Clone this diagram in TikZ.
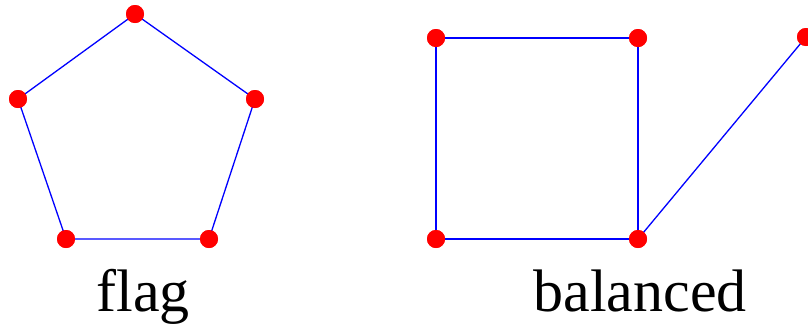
\documentclass[tikz,border=0pt]{standalone}
\usepackage{fontspec}
\setmainfont{Liberation Serif}
\begin{document}
\begin{tikzpicture}[x=1pt,y=-1pt,
  vtx/.style={circle,fill=red,inner sep=0pt,minimum size=18pt},
  edge/.style={blue,line width=1.3pt},
  lbl/.style={font=\fontsize{60}{60}\selectfont,inner sep=0pt,anchor=base}]
\useasboundingbox (0,0) rectangle (808,325);
% pentagon
\node[vtx] (p1) at (135,14) {};
\node[vtx] (p2) at (255,99) {};
\node[vtx] (p3) at (209,239) {};
\node[vtx] (p4) at (66,239) {};
\node[vtx] (p5) at (18,99) {};
\begin{scope}[on background layer/.try]
\end{scope}
\draw[edge] (p1.center) -- (p2.center) -- (p3.center) -- (p4.center) -- (p5.center) -- cycle;
\foreach \n in {p1,p2,p3,p4,p5} \fill[red] (\n) circle (9pt);
% balanced
\node[vtx] (s1) at (436,38) {};
\node[vtx] (s2) at (638,38) {};
\node[vtx] (s3) at (638,239) {};
\node[vtx] (s4) at (436,239) {};
\node[vtx] (s5) at (806,37) {};
\draw[edge] (s1.center) -- (s2.center) -- (s3.center) -- (s4.center) -- cycle;
\draw[edge] (s3.center) -- (s5.center);
\foreach \n in {s1,s2,s3,s4,s5} \fill[red] (\n) circle (9pt);
\node[lbl] (t1) at (143,311) {flag};
\node[lbl] (t2) at (640,311) {balanced};
\end{tikzpicture}
\end{document}
